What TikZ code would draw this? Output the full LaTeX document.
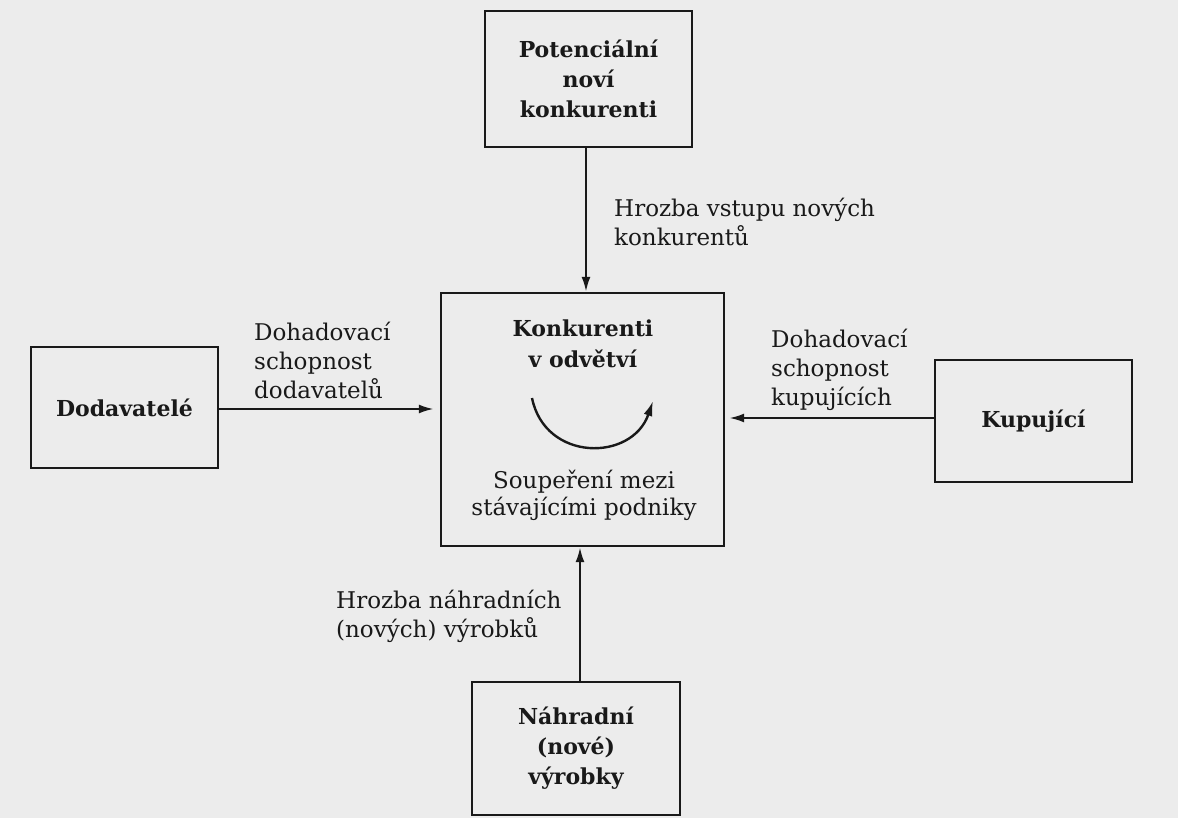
\documentclass[tikz,border=0pt]{standalone}
\usepackage{fontspec}
\setmainfont{DejaVu Serif}
\usetikzlibrary{arrows.meta}
\definecolor{paper}{RGB}{236,236,236}
\definecolor{ink}{RGB}{25,25,25}
\tikzset{
  box/.style={draw=ink, line width=2.4pt, rectangle, inner sep=0pt, align=center,
    font=\bfseries\fontsize{22}{30}\selectfont, text=ink},
  lbl/.style={inner sep=0pt, align=left, anchor=west,
    font=\fontsize{23}{29}\selectfont, text=ink},
  inner/.style={inner sep=0pt, align=center, text=ink},
  conn/.style={draw=ink, line width=2.2pt, -{Latex[length=15pt,width=9pt]}},
}
\begin{document}
\begin{tikzpicture}[x=1pt,y=-1pt]
\fill[paper] (0,0) rectangle (1178,818);
\useasboundingbox (0,0) rectangle (1178,818);

\node[box, minimum width=207pt, minimum height=136pt] (top) at (588.5,79) {Potenciální\\noví\\konkurenti};
\node[box, minimum width=187pt, minimum height=121pt] (left) at (124.5,407.5) {Dodavatelé};
\node[box, minimum width=283pt, minimum height=253pt] (center) at (582.5,419.5) {};
\node[box, minimum width=197pt, minimum height=122pt] (right) at (1033.5,421) {Kupující};
\node[box, minimum width=208pt, minimum height=133pt] (bottom) at (576,748.5) {Náhradní\\(nové)\\výrobky};

\node[inner, font=\bfseries\fontsize{22}{31}\selectfont] (ctitle) at (583,344) {Konkurenti\\v odvětví};
\node[inner, font=\fontsize{23}{27}\selectfont] (ctext) at (584,495) {Soupeření mezi\\stávajícími podniky};

\coordinate (arcA) at (532,398);
\coordinate (arcB) at (653,401);
\draw[conn, line width=2.4pt] (arcA) .. controls (545,462) and (632,462) .. (arcB);

\node[lbl] (ltop) at (614,222) {Hrozba vstupu nových\\konkurentů};
\node[lbl] (lleft) at (254,360) {Dohadovací\\schopnost\\dodavatelů};
\node[lbl] (lright) at (771,370) {Dohadovací\\schopnost\\kupujících};
\node[lbl] (lbottom) at (336,616) {Hrozba náhradních\\(nových) výrobků};

\draw[conn] (top.south -| 586,0) -- (center.north -| 586,0);
\draw[conn] (left.east |- 0,409) -- ([xshift=-6pt]center.west |- 0,409);
\draw[conn] (right.west |- 0,418) -- ([xshift=4pt]center.east |- 0,418);
\draw[conn] (bottom.north -| 580,0) -- (center.south -| 580,0);
\end{tikzpicture}
\end{document}
